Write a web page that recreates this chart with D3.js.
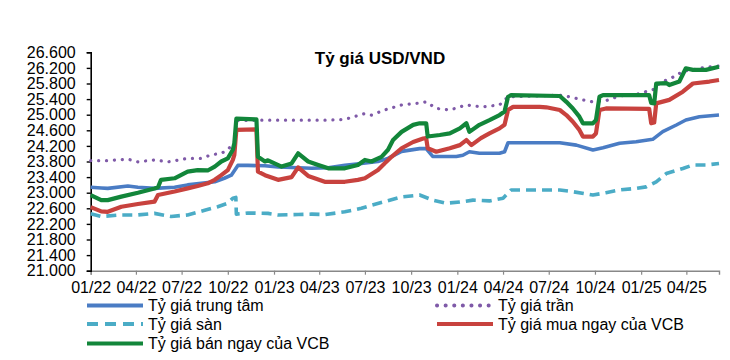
<!DOCTYPE html>
<html><head><meta charset="utf-8">
<script src="https://cdn.jsdelivr.net/npm/d3@7/dist/d3.min.js"></script>
<style>body{margin:0;background:#fff} svg{display:block}</style>
</head><body><svg id="c" width="730" height="360"></svg>
<script>
const chartTitle = "Tỷ giá USD/VND";
const yTickValues = [21000,21400,21800,22200,22600,23000,23400,23800,24200,24600,25000,25400,25800,26200,26600];
const xTickDates = ["2022-01-01","2022-04-01","2022-07-01","2022-10-01","2023-01-01","2023-04-01","2023-07-01","2023-10-01","2024-01-01","2024-04-01","2024-07-01","2024-10-01","2025-01-01","2025-04-01"];
const xTickLabels = ["01/22","04/22","07/22","10/22","01/23","04/23","07/23","10/23","01/24","04/24","07/24","10/24","01/25","04/25"];
const seriesNames = ["Tỷ giá trung tâm","Tỷ giá trần","Tỷ giá sàn","Tỷ giá mua ngay của VCB","Tỷ giá bán ngay của VCB"];

const central = [
["2022-01-01",23140],["2022-01-22",23120],["2022-02-04",23110],["2022-03-16",23170],["2022-04-05",23140],
["2022-05-08",23110],["2022-06-17",23140],["2022-07-13",23200],["2022-08-09",23240],["2022-09-05",23280],
["2022-09-24",23370],["2022-10-08",23450],["2022-10-21",23700],["2022-11-10",23700],["2022-12-14",23690],
["2023-01-09",23660],["2023-03-17",23625],["2023-04-19",23640],["2023-05-22",23700],["2023-06-24",23750],
["2023-07-27",23800],["2023-08-16",23880],["2023-09-12",24060],["2023-10-18",24130],["2023-10-31",24130],
["2023-11-13",23930],["2023-12-30",23930],["2024-01-12",23960],["2024-01-25",24050],["2024-02-14",24010],
["2024-03-25",24010],["2024-04-04",24050],["2024-04-11",24280],["2024-07-23",24280],["2024-08-25",24220],
["2024-09-27",24095],["2024-10-17",24150],["2024-11-19",24266],["2024-12-22",24308],["2025-01-24",24369],
["2025-02-13",24565],["2025-03-12",24736],["2025-03-31",24864],["2025-04-27",24949],["2025-06-05",24992]];

const ceiling = [
["2022-01-01",23820],["2022-02-04",23820],["2022-03-16",23860],["2022-04-05",23790],["2022-05-08",23840],
["2022-06-04",23790],["2022-07-13",23880],["2022-08-09",23880],["2022-08-29",23970],["2022-09-18",24010],
["2022-10-01",24100],["2022-10-14",24300],["2022-10-17",24330],["2022-10-18",24850],["2022-12-14",24860],
["2023-04-19",24860],["2023-05-22",24880],["2023-07-01",25030],["2023-07-14",24990],["2023-08-09",25120],
["2023-09-12",25250],["2023-10-18",25300],["2023-10-31",25330],["2023-11-20",25160],["2023-12-17",25120],
["2024-01-19",25250],["2024-02-20",25200],["2024-03-25",25250],["2024-04-11",25460],["2024-07-23",25500],
["2024-08-11",25460],["2024-09-07",25380],["2024-09-27",25330],["2024-10-23",25360],["2024-11-19",25480],
["2024-12-22",25520],["2025-01-27",25650],["2025-02-06",25800],["2025-02-20",25890],["2025-03-12",26000],
["2025-03-25",26120],["2025-04-14",26150],["2025-05-10",26220],["2025-06-05",26250]];

const floor = [
["2022-01-01",22460],["2022-01-22",22390],["2022-03-03",22430],["2022-04-05",22430],["2022-05-08",22470],
["2022-06-10",22390],["2022-07-13",22430],["2022-08-16",22550],["2022-09-11",22640],["2022-10-01",22730],
["2022-10-11",22860],["2022-10-17",22880],["2022-10-18",22450],["2022-11-10",22480],["2022-12-20",22470],
["2023-01-09",22430],["2023-02-18",22440],["2023-03-17",22450],["2023-04-12",22440],["2023-05-22",22510],
["2023-06-24",22600],["2023-07-14",22680],["2023-08-09",22770],["2023-09-12",22890],["2023-10-18",22940],
["2023-11-13",22810],["2023-12-10",22730],["2024-01-06",22760],["2024-02-01",22810],["2024-03-05",22790],
["2024-04-01",22860],["2024-04-17",23070],["2024-07-23",23070],["2024-08-11",23040],["2024-09-27",22940],
["2024-10-23",23000],["2024-11-19",23070],["2024-12-22",23110],["2025-01-11",23150],["2025-01-31",23280],
["2025-02-20",23490],["2025-03-25",23620],["2025-04-14",23710],["2025-05-10",23710],["2025-06-05",23750]];

const vcbBuy = [
["2022-01-01",22630],["2022-01-22",22520],["2022-02-04",22510],["2022-03-03",22640],["2022-04-05",22710],
["2022-05-08",22770],["2022-05-15",22940],["2022-06-17",23030],["2022-07-13",23110],["2022-08-02",23170],
["2022-08-22",23240],["2022-09-05",23330],["2022-09-18",23450],["2022-10-01",23580],["2022-10-11",23840],
["2022-10-14",23970],["2022-10-18",24610],["2022-11-27",24625],["2022-11-30",23540],["2022-12-14",23450],
["2023-01-09",23330],["2023-02-05",23400],["2023-02-18",23650],["2023-03-10",23430],["2023-04-12",23280],
["2023-05-22",23280],["2023-06-17",23330],["2023-07-01",23370],["2023-07-27",23580],["2023-08-09",23750],
["2023-08-23",23920],["2023-09-12",24140],["2023-10-05",24300],["2023-10-25",24390],["2023-10-31",24400],
["2023-11-03",24140],["2023-11-20",24050],["2023-12-17",24140],["2024-01-06",24220],["2024-01-19",24350],
["2024-01-29",24220],["2024-02-17",24400],["2024-03-05",24520],["2024-03-25",24650],["2024-04-04",24740],
["2024-04-11",25120],["2024-04-21",25200],["2024-06-13",25200],["2024-06-26",25190],["2024-07-23",25120],
["2024-08-05",24990],["2024-08-18",24820],["2024-08-31",24610],["2024-09-07",24440],["2024-09-27",24440],
["2024-10-03",24520],["2024-10-10",25120],["2024-10-23",25160],["2025-01-17",25150],["2025-01-21",24780],
["2025-01-27",24800],["2025-01-31",25290],["2025-02-26",25380],["2025-03-25",25590],["2025-04-14",25800],
["2025-05-17",25850],["2025-06-05",25890]];

const vcbSell = [
["2022-01-01",22940],["2022-01-22",22810],["2022-02-04",22810],["2022-03-03",22900],["2022-04-05",23000],
["2022-05-08",23110],["2022-05-15",23140],["2022-05-21",23330],["2022-06-17",23370],["2022-07-13",23540],
["2022-08-02",23580],["2022-08-22",23570],["2022-09-05",23670],["2022-09-18",23800],["2022-10-01",23880],
["2022-10-11",24100],["2022-10-14",24270],["2022-10-18",24900],["2022-11-27",24880],["2022-11-30",23920],
["2022-12-14",23800],["2022-12-20",23830],["2023-01-16",23670],["2023-02-05",23750],["2023-02-18",24010],
["2023-03-10",23800],["2023-03-30",23710],["2023-04-19",23625],["2023-05-22",23625],["2023-06-17",23710],
["2023-07-01",23840],["2023-07-14",23800],["2023-08-03",23920],["2023-08-16",24100],["2023-08-26",24350],
["2023-09-12",24560],["2023-10-05",24740],["2023-10-18",24780],["2023-10-31",24780],["2023-11-03",24440],
["2023-11-27",24480],["2023-12-17",24520],["2024-01-06",24650],["2024-01-19",24780],["2024-01-25",24560],
["2024-02-14",24740],["2024-03-05",24860],["2024-03-25",24990],["2024-04-04",25080],["2024-04-11",25460],
["2024-04-17",25500],["2024-07-23",25480],["2024-08-05",25330],["2024-08-18",25160],["2024-08-31",24950],
["2024-09-07",24780],["2024-09-27",24780],["2024-10-03",24860],["2024-10-10",25460],["2024-10-17",25500],
["2025-01-17",25500],["2025-01-21",25300],["2025-01-27",25290],["2025-01-31",25800],["2025-02-20",25810],
["2025-02-26",25760],["2025-03-18",25850],["2025-03-31",26190],["2025-04-14",26150],["2025-05-10",26150],
["2025-06-05",26230]];

const parse = d3.timeParse("%Y-%m-%d");
const svg = d3.select("#c");
const font = "'Liberation Sans', Arial, sans-serif";

const x = d3.scaleTime().domain([parse("2022-01-01"), parse("2025-06-05")]).range([90.7, 719]);
const y = d3.scaleLinear().domain([21000, 26600]).range([270.7, 52.3]);

// title
svg.append("text").attr("x", 380).attr("y", 64).attr("text-anchor","middle")
  .attr("font-family", font).attr("font-weight","bold").attr("font-size", 17).attr("fill","#000")
  .text(chartTitle);

// y axis
const yAxis = d3.axisLeft(y).tickValues(yTickValues).tickSize(4).tickPadding(11)
  .tickFormat(v => d3.format(".3f")(v/1000));
const gy = svg.append("g").attr("transform","translate(90.7,0)").call(yAxis);
gy.select(".domain").attr("stroke","#000").attr("stroke-width",1.6);
gy.selectAll(".tick line").attr("stroke","#000").attr("stroke-width",1.4);
gy.selectAll("text").attr("font-family", font).attr("font-size", 16).attr("fill","#000");

// x axis
const xAxis = d3.axisBottom(x).tickValues(xTickDates.map(parse)).tickSize(4).tickPadding(7)
  .tickFormat((d,i) => xTickLabels[i]);
const gx = svg.append("g").attr("transform","translate(0,270.7)").call(xAxis);
gx.select(".domain").attr("stroke","#888").attr("stroke-width",1.4);
gx.selectAll(".tick line").attr("stroke","#888").attr("stroke-width",1.2);
gx.selectAll("text").attr("font-family", font).attr("font-size", 16).attr("fill","#000");
gy.raise();

const styles = [
  {data: central, color:"#4a7cc4", w:3.6, dash:null, cap:"butt"},
  {data: ceiling, color:"#7f5aa8", w:3.2, dash:"0.1,7.8", cap:"round"},
  {data: floor, color:"#4bacc6", w:3.6, dash:"10,6", cap:"butt"},
  {data: vcbBuy, color:"#c8423e", w:4.2, dash:null, cap:"butt"},
  {data: vcbSell, color:"#12863a", w:4.2, dash:null, cap:"butt"}
];
const line = d3.line().x(d => x(parse(d[0]))).y(d => y(d[1]));
styles.forEach(s => {
  svg.append("path").attr("d", line(s.data)).attr("fill","none")
    .attr("stroke", s.color).attr("stroke-width", s.w)
    .attr("stroke-dasharray", s.dash).attr("stroke-linecap", s.cap).attr("stroke-linejoin","round");
});

// legend
const legendPos = [
  {lx:87, ly:305.5}, {lx:437, ly:305.5}, {lx:87, ly:324}, {lx:437, ly:324}, {lx:87, ly:343.5}
];
styles.forEach((s,i) => {
  const p = legendPos[i];
  svg.append("line").attr("x1", p.lx).attr("x2", p.lx+56).attr("y1", p.ly).attr("y2", p.ly)
    .attr("stroke", s.color).attr("stroke-width", 4)
    .attr("stroke-dasharray", i===1 ? "0.1,8.5" : (i===2 ? "11,7" : null))
    .attr("stroke-linecap", s.cap);
  svg.append("text").attr("x", p.lx+61).attr("y", p.ly).attr("dy","0.35em")
    .attr("font-family", font).attr("font-size", 16).attr("fill","#000").text(seriesNames[i]);
});
</script></body></html>
